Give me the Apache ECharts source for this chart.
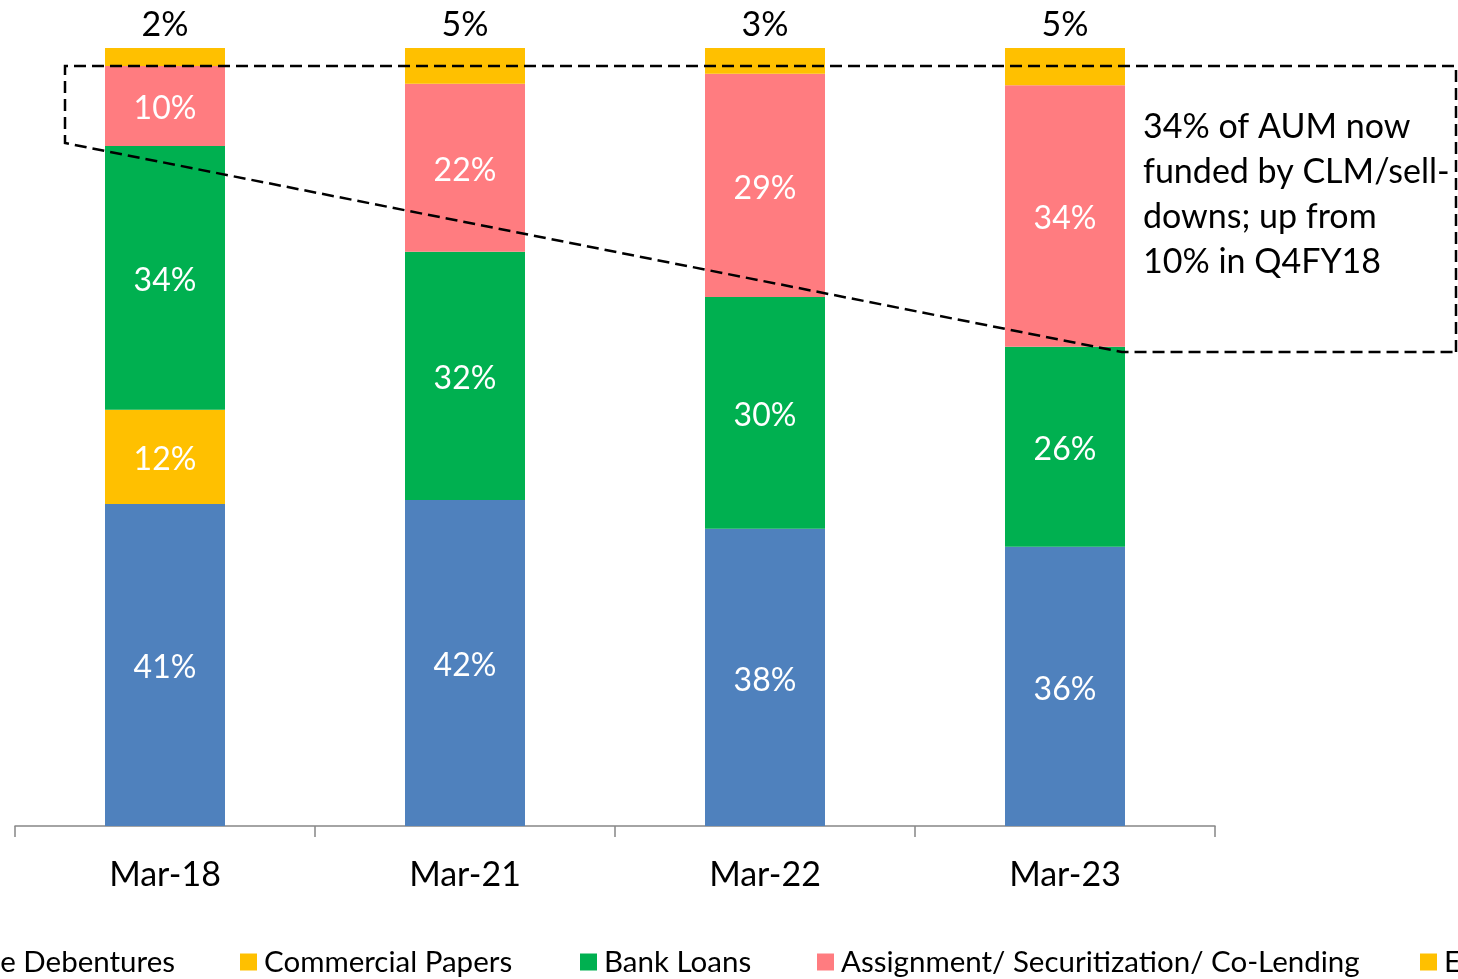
<!DOCTYPE html>
<html>
<head>
<meta charset="utf-8">
<script src="https://cdn.jsdelivr.net/npm/echarts@6/dist/echarts.min.js"></script>
<style>
html,body{margin:0;padding:0;background:#fff;}
#chart{width:1458px;height:979px;}
</style>
</head>
<body>
<div id="chart"></div>
<script>
const categories = ['Mar-18', 'Mar-21', 'Mar-22', 'Mar-23'];
const seriesNames = ['Non-Convertible Debentures', 'Commercial Papers', 'Bank Loans', 'Assignment/ Securitization/ Co-Lending', 'ECB'];
const debentures = [41.4, 41.9, 38.2, 35.9];
const commercialPapers = [12.1, null, null, null];
const bankLoans = [33.9, 31.9, 29.8, 25.7];
const assignment = [10.3, 21.6, 28.7, 33.6];
const ecb = [2.3, 4.6, 3.3, 4.8];
const colors = ['#4F81BD', '#FFC000', '#00B050', '#FF7C80', '#FFC000'];
const annotationText = '34% of AUM now\nfunded by CLM/sell-\ndowns; up from\n10% in Q4FY18';

const FONT = 'Lato';
const allData = [debentures, commercialPapers, bankLoans, assignment, ecb];

const series = allData.map((d, i) => ({
  name: seriesNames[i],
  type: 'bar',
  stack: 'total',
  barWidth: 120,
  data: d,
  itemStyle: { color: colors[i] },
  label: {
    show: true,
    position: i === 4 ? 'top' : 'inside',
    distance: 6,
    offset: i === 4 ? [0, 0] : [0, 3],
    color: i === 4 ? '#000' : '#fff',
    fontFamily: FONT,
    fontSize: i === 4 ? 34 : 32,
    formatter: p => (p.value == null ? '' : Math.round(p.value) + '%')
  },
  emphasis: { disabled: true }
}));

const legendTextStyle = { fontFamily: FONT, fontSize: 29.5, color: '#000', padding: [0, 0, 0, 2] };
const legendCommon = {
  orient: 'horizontal', bottom: 2, itemWidth: 17, itemHeight: 17, itemGap: 0,
  icon: 'rect', textStyle: legendTextStyle, selectedMode: false, padding: 0
};
const legends = [
  Object.assign({}, legendCommon, { data: [seriesNames[0]], right: 1283 }),
  Object.assign({}, legendCommon, { data: [seriesNames[1]], left: 240 }),
  Object.assign({}, legendCommon, { data: [seriesNames[2]], left: 580 }),
  Object.assign({}, legendCommon, { data: [seriesNames[3]], left: 817 }),
  Object.assign({}, legendCommon, { data: [seriesNames[4]], left: 1420 })
];

const chart = echarts.init(document.getElementById('chart'));
chart.setOption({
  animation: false,
  backgroundColor: '#fff',
  grid: { left: 15, right: 243, top: 48, bottom: 153, containLabel: false },
  legend: legends,
  xAxis: {
    type: 'category',
    data: categories,
    axisLine: { lineStyle: { color: '#868686', width: 1.5 } },
    axisTick: { show: true, length: 11, lineStyle: { color: '#868686', width: 1.5 } },
    axisLabel: { color: '#000', fontFamily: FONT, fontSize: 34, margin: 32 }
  },
  yAxis: { type: 'value', min: 0, max: 100, show: false, splitLine: { show: false } },
  series: series,
  graphic: [
    {
      type: 'polyline',
      shape: { points: [[1456, 352], [1456, 66], [65, 66], [65, 143], [1122, 352], [1456, 352]] },
      style: { stroke: '#000', lineWidth: 2.5, lineDash: [12, 6], fill: null },
      z: 100
    },
    {
      type: 'text',
      left: 1143,
      top: 105,
      style: { text: annotationText, fontFamily: FONT, fontSize: 34, lineHeight: 45, fill: '#000' },
      z: 100
    }
  ]
});
</script>
</body>
</html>
